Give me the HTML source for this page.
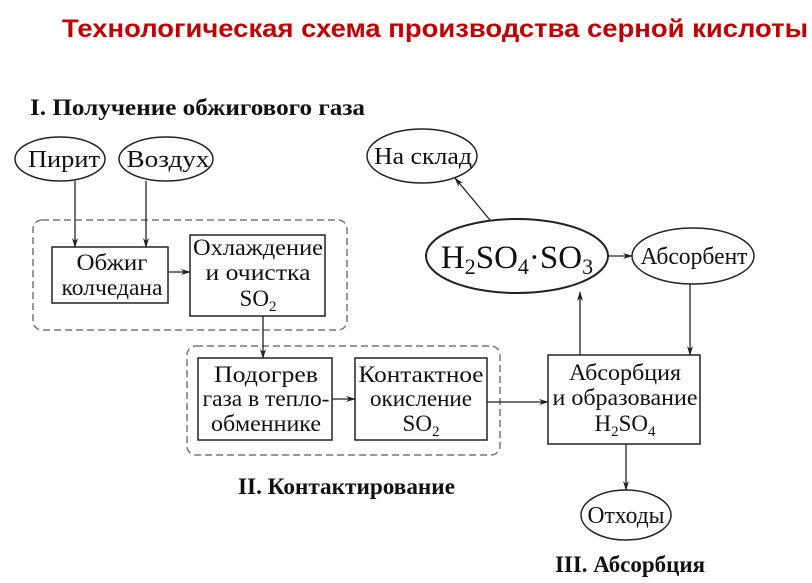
<!DOCTYPE html>
<html><head><meta charset="utf-8"><style>
body{margin:0;background:#fff;width:812px;height:583px;overflow:hidden}
svg{display:block}
.t{font-family:"Liberation Serif","DejaVu Serif",serif;font-size:23px;fill:#111;text-anchor:middle}
.h{font-family:"Liberation Serif","DejaVu Serif",serif;font-size:23px;font-weight:bold;fill:#111}
</style></head><body>
<svg width="812" height="583" viewBox="0 0 812 583" xmlns="http://www.w3.org/2000/svg">
<defs><marker id="a" markerWidth="10" markerHeight="8" refX="9" refY="4" orient="auto" markerUnits="userSpaceOnUse"><path d="M0,1 L10,4 L0,7 L3,4z" fill="#222"/></marker></defs>
<text x="62" y="37" textLength="746" lengthAdjust="spacingAndGlyphs" style="font-family:'Liberation Sans',sans-serif;font-size:25px;font-weight:bold;fill:#c00000">Технологическая схема производства серной кислоты</text>
<text class="h" x="30" y="115" textLength="335" lengthAdjust="spacingAndGlyphs">I. Получение обжигового газа</text>
<text class="h" x="238" y="494" textLength="217" lengthAdjust="spacingAndGlyphs">II. Контактирование</text>
<text class="h" x="555" y="572" textLength="150" lengthAdjust="spacingAndGlyphs">III. Абсорбция</text>
<g fill="none" stroke="#777" stroke-width="1.5" stroke-dasharray="7,4">
<rect x="33" y="220" width="314" height="110" rx="9"/>
<rect x="187" y="346" width="313" height="109" rx="9"/>
</g>
<g fill="#fff" stroke="#222" stroke-width="1.5">
<ellipse cx="60" cy="159" rx="45" ry="22"/>
<ellipse cx="166" cy="159" rx="47" ry="22"/>
<ellipse cx="422" cy="156" rx="55" ry="27"/>
<ellipse cx="517" cy="256" rx="91" ry="37" stroke-width="2"/>
<ellipse cx="693" cy="256" rx="61" ry="28"/>
<ellipse cx="626" cy="515" rx="45" ry="25"/>
<rect x="52" y="247" width="116" height="56"/>
<rect x="190" y="235" width="135" height="81"/>
<rect x="198" y="358" width="134" height="82"/>
<rect x="355" y="358" width="132" height="82"/>
<rect x="548" y="355" width="152" height="89"/>
</g>
<g stroke="#222" stroke-width="1.3" fill="none" marker-end="url(#a)">
<line x1="75" y1="181" x2="75" y2="247"/>
<line x1="146" y1="181" x2="146" y2="247"/>
<line x1="168" y1="272" x2="190" y2="272"/>
<line x1="263" y1="316" x2="263" y2="358"/>
<line x1="332" y1="399" x2="355" y2="399"/>
<line x1="487" y1="402" x2="548" y2="402"/>
<line x1="626" y1="444" x2="626" y2="490"/>
<line x1="580" y1="355" x2="580" y2="292"/>
<line x1="490" y1="220" x2="455" y2="178"/>
<line x1="608" y1="256" x2="632" y2="256"/>
<line x1="690" y1="284" x2="690" y2="355"/>
</g>
<text class="t" x="64" y="167" style="font-size:24px" textLength="72" lengthAdjust="spacingAndGlyphs">Пирит</text>
<text class="t" x="168" y="167" style="font-size:24px" textLength="83" lengthAdjust="spacingAndGlyphs">Воздух</text>
<text class="t" x="423" y="164" style="font-size:24px" textLength="98" lengthAdjust="spacingAndGlyphs">На склад</text>
<text class="t" x="694" y="264" style="font-size:24px" textLength="107" lengthAdjust="spacingAndGlyphs">Абсорбент</text>
<text class="t" x="626" y="523" style="font-size:24px" textLength="77" lengthAdjust="spacingAndGlyphs">Отходы</text>
<text class="t" x="517" y="268" style="font-size:33px">H<tspan font-size="22" dy="6">2</tspan><tspan dy="-6">SO</tspan><tspan font-size="22" dy="6">4</tspan><tspan dy="-6">·SO</tspan><tspan font-size="22" dy="6">3</tspan></text>
<text class="t" x="112" y="270" textLength="71" lengthAdjust="spacingAndGlyphs">Обжиг</text>
<text class="t" x="112" y="295" textLength="101" lengthAdjust="spacingAndGlyphs">колчедана</text>
<text class="t" x="258" y="255" textLength="130" lengthAdjust="spacingAndGlyphs">Охлаждение</text>
<text class="t" x="258" y="280" textLength="105" lengthAdjust="spacingAndGlyphs">и очистка</text>
<text class="t" x="258" y="306">SO<tspan font-size="15" dy="5">2</tspan></text>
<text class="t" x="266" y="382" textLength="104" lengthAdjust="spacingAndGlyphs">Подогрев</text>
<text class="t" x="266" y="406" textLength="127" lengthAdjust="spacingAndGlyphs">газа в тепло-</text>
<text class="t" x="266" y="431" textLength="110" lengthAdjust="spacingAndGlyphs">обменнике</text>
<text class="t" x="421" y="382" textLength="125" lengthAdjust="spacingAndGlyphs">Контактное</text>
<text class="t" x="421" y="406" textLength="102" lengthAdjust="spacingAndGlyphs">окисление</text>
<text class="t" x="421" y="431">SO<tspan font-size="15" dy="5">2</tspan></text>
<text class="t" x="625" y="380" textLength="112" lengthAdjust="spacingAndGlyphs">Абсорбция</text>
<text class="t" x="625" y="405" textLength="145" lengthAdjust="spacingAndGlyphs">и образование</text>
<text class="t" x="625" y="431">H<tspan font-size="15" dy="5">2</tspan><tspan dy="-5">SO</tspan><tspan font-size="15" dy="5">4</tspan></text>
</svg>
</body></html>
